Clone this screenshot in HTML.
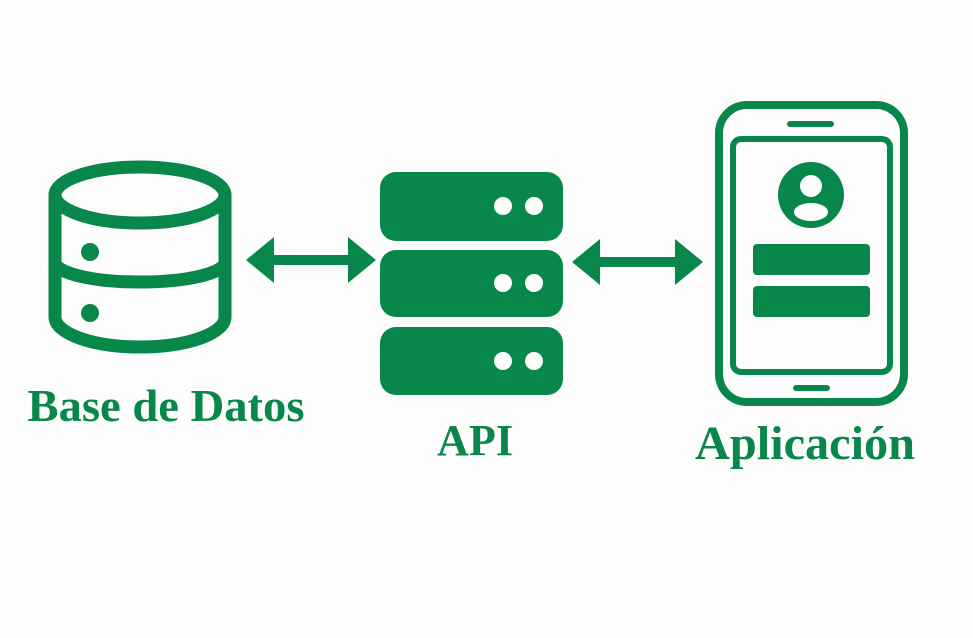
<!DOCTYPE html>
<html><head><meta charset="utf-8"><style>
html,body{margin:0;padding:0;background:#fdfdfd;}
svg{display:block}
text{font-family:"Liberation Serif",serif;font-weight:bold;fill:#08874a}
</style></head><body>
<svg width="973" height="638" viewBox="0 0 973 638">
<rect width="973" height="638" fill="#fdfdfd"/>
<g fill="none" stroke="#08874a" stroke-width="13" stroke-linecap="round">
<ellipse cx="140" cy="195" rx="85" ry="28"/>
<path d="M55 195 V317 A85 30 0 0 0 225 317 V195"/>
<path d="M55 262 A85 20 0 0 0 225 262"/>
</g>
<g fill="#08874a">
<circle cx="90" cy="252" r="9"/>
<circle cx="90" cy="313" r="9"/>
<rect x="266" y="255" width="90" height="10"/>
<polygon points="246,260 274,237 274,283"/>
<polygon points="376,260 348,237 348,283"/>
<rect x="592" y="257" width="90" height="10"/>
<polygon points="572,262 600,239 600,285"/>
<polygon points="703,262 675,239 675,285"/>
<rect x="380" y="172" width="183" height="69" rx="16"/>
<rect x="380" y="250" width="183" height="67" rx="16"/>
<rect x="380" y="327" width="183" height="68" rx="16"/>
</g>
<g fill="#fdfdfd">
<circle cx="503" cy="206" r="9"/><circle cx="534" cy="206" r="9"/>
<circle cx="503" cy="283" r="9"/><circle cx="534" cy="283" r="9"/>
<circle cx="503" cy="361" r="9"/><circle cx="534" cy="361" r="9"/>
</g>
<g fill="none" stroke="#08874a">
<rect x="719" y="105" width="185" height="297" rx="28" stroke-width="8"/>
<rect x="733" y="139" width="157" height="233" rx="8" stroke-width="6"/>
<path d="M790 124 H831 M796 388 H827" stroke-width="6" stroke-linecap="round"/>
</g>
<circle cx="811" cy="195" r="33" fill="#08874a"/>
<circle cx="811" cy="186" r="11" fill="#fdfdfd"/>
<ellipse cx="811" cy="212" rx="17" ry="9" fill="#fdfdfd"/>
<rect x="753" y="244" width="117" height="31" rx="4" fill="#08874a"/>
<rect x="753" y="286" width="117" height="31" rx="4" fill="#08874a"/>
<text x="166" y="421" font-size="46" text-anchor="middle" textLength="277" lengthAdjust="spacingAndGlyphs">Base de Datos</text>
<text x="475" y="455" font-size="44" text-anchor="middle" textLength="76" lengthAdjust="spacingAndGlyphs">API</text>
<text x="805" y="459" font-size="48" text-anchor="middle" textLength="220" lengthAdjust="spacingAndGlyphs">Aplicación</text>
</svg>
</body></html>
